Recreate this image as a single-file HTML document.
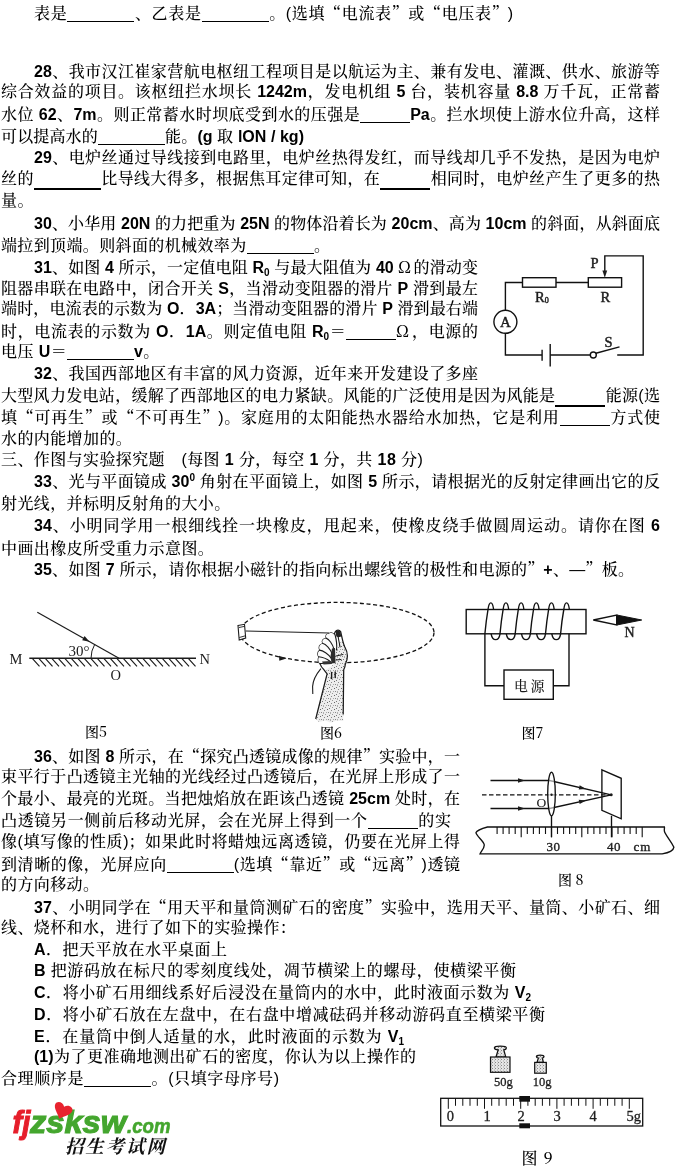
<!DOCTYPE html><html lang="zh"><head><meta charset="utf-8"><title>物理试题</title><style>
html,body{margin:0;padding:0;background:#fff;}
body{width:675px;height:1171px;position:relative;overflow:hidden;
 font-family:"Liberation Sans","Noto Serif CJK SC","Noto Sans CJK SC",sans-serif;font-size:16px;color:#000;font-weight:500;}
.l{position:absolute;white-space:nowrap;height:20px;line-height:20px;}
.j{text-align:justify;text-align-last:justify;white-space:normal;}
b{font-weight:bold;}
q{quotes:none;font-family:"Noto Serif CJK SC",serif;}
q:before,q:after{content:none;}
u{text-decoration:none;display:inline-block;width:15px;text-align:center;font-family:"Noto Serif CJK SC",serif;}
.n{letter-spacing:0.4px;}
i.u{display:inline-block;border-bottom:1px solid #000;height:0;vertical-align:-3px;}
i.u.k{border-bottom-width:2px;vertical-align:-6px;}
sub{font-size:10px;vertical-align:-3px;line-height:0;}
sup{font-size:10px;vertical-align:6px;line-height:0;}
svg{position:absolute;overflow:visible;}
#pg{position:absolute;left:0;top:0;width:675px;height:1171px;will-change:transform;}
.fl{position:absolute;font-family:"Noto Serif CJK SC","Liberation Serif",serif;font-size:14px;white-space:nowrap;line-height:16px;}
</style></head><body><div id="pg">
<div class="l j" id="l1" style="top:3.2px;left:34px;width:479px">表是<i class="u" style="width:67px"></i>、乙表是<i class="u" style="width:67px"></i>。(选填<q>“</q>电流表<q>”</q>或<q>“</q>电压表<q>”</q>)</div>
<div class="l j" id="l2" style="top:62.2px;left:34px;width:626px"><b>28</b>、我市汉江崔家营航电枢纽工程项目是以航运为主、兼有发电、灌溉、供水、旅游等</div>
<div class="l j" id="l3" style="top:81.8px;left:1px;width:659px">综合效益的项目。该枢纽拦水坝长 <b>1242m</b>，发电机组 <b>5</b> 台，装机容量 <b>8.8</b> 万千瓦，正常蓄</div>
<div class="l j" id="l4" style="top:105.2px;left:1px;width:659px">水位 <b>62</b>、<b>7m</b>。则正常蓄水时坝底受到水的压强是<i class="u" style="width:50px"></i><b>Pa</b>。拦水坝使上游水位升高，这样</div>
<div class="l j" id="l5" style="top:127.2px;left:1px;width:303px">可以提高水的<i class="u" style="width:67px"></i>能。<b>(g</b> 取 <b>lON / kg)</b></div>
<div class="l j" id="l6" style="top:148.2px;left:34px;width:626px"><b>29</b>、电炉丝通过导线接到电路里，电炉丝热得发红，而导线却几乎不发热，是因为电炉</div>
<div class="l j" id="l7" style="top:169.2px;left:1px;width:659px">丝的<i class="u k" style="width:67px"></i>比导线大得多，根据焦耳定律可知，在<i class="u k" style="width:50px"></i>相同时，电炉丝产生了更多的热</div>
<div class="l n" id="l8" style="top:191.2px;left:1px">量。</div>
<div class="l j" id="l9" style="top:214.2px;left:34px;width:626px"><b>30</b>、小华用 <b>20N</b> 的力把重为 <b>25N</b> 的物体沿着长为 <b>20cm</b>、高为 <b>10cm</b> 的斜面，从斜面底</div>
<div class="l j" id="l10" style="top:236.2px;left:1px;width:329px">端拉到顶端。则斜面的机械效率为<i class="u" style="width:67px"></i>。</div>
<div class="l j" id="l11" style="top:257.2px;left:34px;width:444px"><b>31</b>、如图 <b>4</b> 所示，一定值电阻 <b>R<sub>0</sub></b> 与最大阻值为 <b>40</b> <u>Ω</u>的滑动变</div>
<div class="l j" id="l12" style="top:278.7px;left:1px;width:477px">阻器串联在电路中，闭合开关 <b>S</b>，当滑动变阻器的滑片 <b>P</b> 滑到最左</div>
<div class="l j" id="l13" style="top:299.2px;left:1px;width:477px">端时，电流表的示数为 <b>O</b>．<b>3A</b>；当滑动变阻器的滑片 <b>P</b> 滑到最右端</div>
<div class="l j" id="l14" style="top:320.8px;left:1px;width:477px">时，电流表的示数为 <b>O</b>．<b>1A</b>。则定值电阻 <b>R<sub>0</sub></b>＝<i class="u" style="width:50px"></i><u>Ω</u>，电源的</div>
<div class="l n" id="l15" style="top:341.7px;left:1px">电压 <b>U</b>＝<i class="u" style="width:67px"></i><b>v</b>。</div>
<div class="l j" id="l16" style="top:364.2px;left:34px;width:444px"><b>32</b>、我国西部地区有丰富的风力资源，近年来开发建设了多座</div>
<div class="l j" id="l17" style="top:386.2px;left:1px;width:659px">大型风力发电站，缓解了西部地区的电力紧缺。风能的广泛使用是因为风能是<i class="u k" style="width:50px"></i>能源(选</div>
<div class="l j" id="l18" style="top:407.2px;left:1px;width:659px">填<q>“</q>可再生<q>”</q>或<q>“</q>不可再生<q>”</q>)。家庭用的太阳能热水器给水加热，它是利用<i class="u" style="width:50px"></i>方式使</div>
<div class="l n" id="l19" style="top:428.9px;left:1px">水的内能增加的。</div>
<div class="l n" id="l20" style="top:450.2px;left:1px">三、作图与实验探究题　(每图 <b>1</b> 分，每空 <b>1</b> 分，共 <b>18</b> 分)</div>
<div class="l j" id="l21" style="top:471.5px;left:34px;width:626px"><b>33</b>、光与平面镜成 <b>30<sup>0</sup></b> 角射在平面镜上，如图 <b>5</b> 所示，请根据光的反射定律画出它的反</div>
<div class="l n" id="l22" style="top:494.0px;left:1px">射光线，并标明反射角的大小。</div>
<div class="l j" id="l23" style="top:516.2px;left:34px;width:626px"><b>34</b>、小明同学用一根细线拴一块橡皮，甩起来，使橡皮绕手做圆周运动。请你在图 <b>6</b></div>
<div class="l n" id="l24" style="top:539.2px;left:1px">中画出橡皮所受重力示意图。</div>
<div class="l j" id="l25" style="top:559.2px;left:34px;width:600px"><b>35</b>、如图 <b>7</b> 所示，请你根据小磁针的指向标出螺线管的极性和电源的<q>”</q><b>+</b>、—<q>”</q>板。</div>
<div class="l j" id="l26" style="top:745.6px;left:34px;width:426px"><b>36</b>、如图 <b>8</b> 所示，在<q>“</q>探究凸透镜成像的规律<q>”</q>实验中，一</div>
<div class="l j" id="l27" style="top:766.9px;left:1px;width:459px">束平行于凸透镜主光轴的光线经过凸透镜后，在光屏上形成了一</div>
<div class="l j" id="l28" style="top:789.2px;left:1px;width:459px">个最小、最亮的光斑。当把烛焰放在距该凸透镜 <b>25cm</b> 处时，在</div>
<div class="l j" id="l29" style="top:811.2px;left:1px;width:450px">凸透镜另一侧前后移动光屏，会在光屏上得到一个<i class="u" style="width:50px"></i>的实</div>
<div class="l j" id="l30" style="top:832.2px;left:1px;width:459px">像(填写像的性质)；如果此时将蜡烛远离透镜，仍要在光屏上得</div>
<div class="l j" id="l31" style="top:854.2px;left:1px;width:459px">到清晰的像，光屏应向<i class="u" style="width:67px"></i>(选填<q>“</q>靠近<q>”</q>或<q>“</q>远离<q>”</q>)透镜</div>
<div class="l n" id="l32" style="top:874.9px;left:1px">的方向移动。</div>
<div class="l j" id="l33" style="top:897.2px;left:34px;width:626px"><b>37</b>、小明同学在<q>“</q>用天平和量筒测矿石的密度<q>”</q>实验中，选用天平、量筒、小矿石、细</div>
<div class="l n" id="l34" style="top:918.2px;left:1px">线、烧杯和水，进行了如下的实验操作：</div>
<div class="l j" id="l35" style="top:940.2px;left:34px;width:193px"><b>A</b>．把天平放在水平桌面上</div>
<div class="l j" id="l36" style="top:961.2px;left:34px;width:482px"><b>B</b> 把游码放在标尺的零刻度线处，凋节横梁上的螺母，使横梁平衡</div>
<div class="l j" id="l37" style="top:982.9px;left:34px;width:497px"><b>C</b>．将小矿石用细线系好后浸没在量筒内的水中，此时液面示数为 <b>V<sub>2</sub></b></div>
<div class="l j" id="l38" style="top:1005.0px;left:34px;width:511px"><b>D</b>．将小矿石放在左盘中，在右盘中增减砝码并移动游码直至横梁平衡</div>
<div class="l j" id="l39" style="top:1026.8px;left:34px;width:370px"><b>E</b>．在量筒中倒人适量的水，此时液面的示数为 <b>V<sub>1</sub></b></div>
<div class="l j" id="l40" style="top:1047.2px;left:34px;width:382px"><b>(1)</b>为了更准确地测出矿石的密度，你认为以上操作的</div>
<div class="l j" id="l41" style="top:1069.2px;left:1px;width:278px">合理顺序是<i class="u" style="width:67px"></i>。(只填字母序号)</div>
<svg width="675" height="1171" viewBox="0 0 675 1171" style="left:0;top:0">
<defs>
<pattern id="st" width="7" height="7" patternUnits="userSpaceOnUse"><rect width="7" height="7" fill="#ededed"/><rect x="0" y="1" width="1" height="1" fill="#777"/><rect x="3" y="0" width="1" height="1" fill="#999"/><rect x="5" y="2" width="1" height="1" fill="#666"/><rect x="2" y="3" width="1" height="1" fill="#8a8a8a"/><rect x="6" y="5" width="1" height="1" fill="#888"/><rect x="4" y="5" width="1" height="1" fill="#aaa"/><rect x="1" y="5.500" width="1" height="1" fill="#707070"/></pattern>
<pattern id="st2" width="3" height="3" patternUnits="userSpaceOnUse"><rect width="3" height="3" fill="#e6e6e6"/><rect x="0" y="0" width="1" height="1" fill="#888"/><rect x="2" y="1.500" width="1" height="1" fill="#aaa"/></pattern>
</defs>
<!-- ===== Fig 4 circuit ===== -->
<g stroke="#111" stroke-width="1.4" fill="none">
<path d="M505.4 310.3V282.5H522.5"/>
<rect x="522.5" y="277.7" width="33.5" height="9.5"/>
<path d="M556 282.5H588.3"/>
<rect x="588.3" y="277.7" width="33.3" height="9.5"/>
<path d="M604.8 272V255.9H643.2V355H617.2"/>
<circle cx="505.4" cy="321.8" r="11.5"/>
<path d="M505.4 333.3V355H542.1"/>
<path d="M542.1 349.8V360.8"/>
<path d="M550.2 344V366.5"/>
<path d="M550.2 355H590.3"/>
<circle cx="593.3" cy="355" r="3"/>
<path d="M595.9 353.2L619.5 346.9"/>
</g>
<path d="M602.4 270.5H607.2L604.8 277.7Z" fill="#1c1c1c"/>
<g font-family="'Liberation Serif',serif" font-size="14.5" fill="#1c1c1c" stroke="#1c1c1c" stroke-width="0.45">
<text x="590.5" y="267.5">P</text>
<text x="535" y="301.5">R<tspan font-size="8" dy="1.5">0</tspan></text>
<text x="600.5" y="301.8">R</text>
<text x="604.5" y="346.5">S</text>
<text x="505.4" y="326.6" text-anchor="middle" font-size="15">A</text>
</g>
<!-- ===== Fig 5 mirror ===== -->
<g stroke="#1c1c1c" fill="none">
<path d="M29.3 658.3H196" stroke-width="1.6"/>
<path stroke-width="1.15" d="M32.5 658.6l7 7.8M39.0 658.6l7 7.8M45.5 658.6l7 7.8M52.0 658.6l7 7.8M58.5 658.6l7 7.8M65.0 658.6l7 7.8M71.5 658.6l7 7.8M78.0 658.6l7 7.8M84.5 658.6l7 7.8M91.0 658.6l7 7.8M97.5 658.6l7 7.8M104.0 658.6l7 7.8M110.5 658.6l7 7.8M117.0 658.6l7 7.8M123.5 658.6l7 7.8M130.0 658.6l7 7.8M136.5 658.6l7 7.8M143.0 658.6l7 7.8M149.5 658.6l7 7.8M156.0 658.6l7 7.8M162.5 658.6l7 7.8M169.0 658.6l7 7.8M175.5 658.6l7 7.8M182.0 658.6l7 7.8M188.5 658.6l7 7.8"/>
<path d="M37.3 612.3L119 658.3" stroke-width="1.2"/>
<path d="M91 658.3A28 28 0 0 1 94.75 644.3" stroke-width="1"/>
</g>
<path d="M89.5 641.7L82.2 640.3L84.6 636.1Z" fill="#1c1c1c"/>
<g font-family="'Liberation Serif',serif" font-size="14" fill="#1c1c1c">
<text x="9.500" y="663.5" font-size="14.5">M</text>
<text x="199.5" y="663.5" font-size="14.5">N</text>
<text x="68.500" y="656" font-size="15">30°</text>
<text x="110.5" y="680.3" font-size="14.5">O</text>
</g>
<!-- ===== Fig 6 hand ===== -->
<ellipse cx="337" cy="632.6" rx="97" ry="30.2" fill="none" stroke="#111" stroke-width="1.3" stroke-dasharray="4 2.6"/>
<!-- forearm + palm stipple -->
<path d="M327.1 673.9L315.7 719L319 722L325 720.5L331 722.500L337 720.5L343.2 721L343.2 714.4L343.7 669.8L347.4 658L346 649L342 640L336 648L334 664L326 670Z" fill="url(#st)"/>
<!-- fist outline -->
<path d="M329.2 633.5Q324.800 634.300 326.3 638.3Q320.800 639.300 322.8 643.5Q317.600 645.300 319.8 650.3Q316.400 653 318.8 657Q317.300 661 319.9 663.6C321 666.5 322.5 668.5 324 669.8L327.1 673.9L315.7 719M343.2 714.4L343.7 669.8C345 667 345.3 665.5 345.3 664.6C347 661 347.4 659.4 347.4 656C347.4 652 346 649 344.8 647C343.5 644 343 642 342.7 640.7L340.6 631.5C339.5 629.8 336.5 629.8 335.4 631.5L334 634.5C332.5 632.8 330.5 632.8 329.2 633.5" fill="none" stroke="#1a1a1a" stroke-width="1.25" stroke-linejoin="round"/>
<!-- fingers fill white -->
<path d="M329.2 633.5Q324.800 634.300 326.3 638.3Q320.800 639.300 322.8 643.5Q317.600 645.300 319.8 650.3Q316.400 653 318.8 657Q317.300 661 319.9 663.6L330.3 662L334 650L336 640L334 634.5C332.5 632.8 330.5 632.8 329.2 633.5Z" fill="#fbfbfb"/>
<g fill="none" stroke="#1a1a1a" stroke-width="1.1" stroke-linecap="round">
<path d="M326.1 638.1C329 639 332.500 644 333.9 649"/>
<path d="M322.5 643.3C326 644 330.500 649 332.3 654.2"/>
<path d="M319.4 650.1C323 650.5 328.500 654 331.3 658.4"/>
<path d="M318.6 656.8C322 657 327 659 330.3 661.5"/>
<path d="M319.9 663.6C323 663.500 327 663 331 662.500"/>
<path d="M335 634.500C336.500 640 337 646 336.500 650"/>
<path d="M338 636L340 647"/>
<path d="M331.6 672.5V678.500M335.2 672V677.500" stroke-width="1.4"/>
<path d="M336 656L343 654.500M336 660L341 659.500" stroke-width="1"/>
</g>
<!-- dark accents -->
<path d="M335.6 631.6C336.6 630.2 339.4 630.2 340.4 631.8L341.3 636.500L338.500 637.3L336.3 636.500Z" fill="#222"/>
<path d="M332 648.500L335 648L335.500 663L331.500 663.500L330.500 656Z" fill="#2c2c2c"/>
<path d="M322 661.500L331 661L332 664L323.500 664.500Z" fill="#333"/>
<!-- eraser -->
<path d="M238 625.500L244.500 624.3L245.7 638L239.200 640Z" fill="#fff" stroke="#1c1c1c" stroke-width="1.1"/>
<path d="M239 627.5L244.800 626.3M239.300 637.500L245.300 635.800" fill="none" stroke="#1c1c1c" stroke-width="0.9"/>
<!-- string -->
<path d="M245.7 631L329.2 633" fill="none" stroke="#1c1c1c" stroke-width="1"/>
<path d="M320.9 668.7C316.5 674 313 680 312.6 686.4L312.8 694.1" fill="none" stroke="#1c1c1c" stroke-width="1.1"/>
<!-- arrow on orbit -->
<path d="M286.500 658.500L279 655.800L279.300 660.700Z" fill="#1c1c1c"/>
<!-- ===== Fig 7 solenoid ===== -->
<g fill="none" stroke="#111" stroke-width="1.4">
<rect x="466.2" y="609.5" width="119.8" height="24.3" fill="#fff"/>
<!-- coil turns: front diagonal + top arc + bottom arc -->
<path d="M484.9 633.8C485.7 625 486.9 616 488.0 609.5C489.2 600.7 492.5 600.7 493.6 609.5"/>
<path d="M491.1 633.8C492.6 641.6 498.8 641.6 500.0 633.8C500.8 625 502.0 616 503.1 609.5C504.3 600.7 507.6 600.7 508.7 609.5"/>
<path d="M506.3 633.8C507.8 641.6 514.0 641.6 515.2 633.8C516.0 625 517.2 616 518.3 609.5C519.5 600.7 522.8 600.7 523.9 609.5"/>
<path d="M521.5 633.8C523.0 641.6 529.1 641.6 530.4 633.8C531.1 625 532.4 616 533.5 609.5C534.6 600.7 538.0 600.7 539.1 609.5"/>
<path d="M536.6 633.8C538.1 641.6 544.3 641.6 545.5 633.8C546.3 625 547.5 616 548.6 609.5C549.8 600.7 553.1 600.7 554.2 609.5"/>
<path d="M551.8 633.8C553.2 641.6 559.4 641.6 560.6 633.8C561.4 625 562.6 616 563.8 609.5C564.9 600.7 568.2 600.7 569.4 609.5"/>
<path d="M484.9 633.8V685.7H504"/>
<path d="M569 633.8V685.7H553.3"/>
<rect x="504" y="670" width="49.3" height="29.3"/>
<path d="M593.3 620L616.7 615V625Z" fill="#fff"/>
</g>
<path d="M616.7 615L641.7 620L616.7 625Z" fill="#111" stroke="#111" stroke-width="1"/>
<g font-family="'Liberation Serif','Noto Serif CJK SC',serif" fill="#1c1c1c">
<text x="624.5" y="636.500" font-size="14" stroke="#1c1c1c" stroke-width="0.4">N</text>
<text x="514" y="690.500" font-size="14" font-family="'Noto Serif CJK SC',serif" letter-spacing="2.500">电源</text>
</g>
<!-- ===== Fig 8 lens ===== -->
<g fill="none" stroke="#111" stroke-width="1.35">
<path d="M490.5 780.5H549.5L611.2 794.8L549.5 808.5H490.5"/>
<path d="M482 794.8H611.2" stroke-dasharray="4.5 2.500"/>
<ellipse cx="551.5" cy="794" rx="3.8" ry="21.8" fill="#fff" fill-opacity="0.6"/>
<path d="M551.5 815.7V837.2M611.5 815.7V837.2"/>
<path d="M601.9 769.9L621.2 778.3V818.8L601.9 810.4Z"/>
<path stroke-width="1.35" d="M487.5 827C482 828.500 477 830 476 832.500C476 836 484 841 484.3 845C484.300 848.5 481 851.500 480 853.9H662.2C668 853 673.500 850.500 673.9 847.2C671.500 842 667 837 665 832.8C663.500 830.500 664.800 828.500 664.4 827Z"/>
<path d="M497.1 827v7.0M503.1 827v7.0M509.1 827v7.0M515.2 827v7.0M521.2 827v10.2M527.3 827v7.0M533.4 827v7.0M539.4 827v7.0M545.5 827v7.0M551.5 827v10.2M557.5 827v7.0M563.6 827v7.0M569.6 827v7.0M575.7 827v7.0M581.8 827v10.2M587.8 827v7.0M593.9 827v7.0M599.9 827v7.0M606.0 827v7.0M612.0 827v10.2M618.0 827v7.0M624.1 827v7.0M630.1 827v7.0M636.2 827v7.0M642.2 827v10.2" stroke-width="1.1"/>
</g>
<path d="M525.0 780.5L518.0 778.3L518.0 782.7Z" fill="#1c1c1c"/>
<path d="M525.0 808.5L518.0 806.3L518.0 810.7Z" fill="#1c1c1c"/>
<path d="M586.0 789.0L579.7 785.3L578.7 789.6Z" fill="#1c1c1c"/>
<path d="M586.0 800.4L578.7 799.8L579.7 804.1Z" fill="#1c1c1c"/>
<circle cx="551.5" cy="794.8" r="1.2" fill="#1c1c1c"/><circle cx="611.2" cy="794.8" r="1.500" fill="#1c1c1c"/>
<g font-family="'Liberation Serif',serif" fill="#1c1c1c" stroke="#1c1c1c" stroke-width="0.35" font-size="13">
<text x="546.500" y="851" letter-spacing="0.5">30</text>
<text x="607" y="851" letter-spacing="0.5">40</text>
<text x="633.500" y="851" letter-spacing="1">cm</text>
<text x="536.5" y="806.500" font-size="13.500" stroke-width="0.1">O</text>
</g>
<!-- ===== Fig 9 weights ===== -->
<g fill="none" stroke="#111" stroke-width="1.25">
<path d="M496 1057L498.200 1049.800C495.500 1049.800 494.400 1049 494.400 1047.800C494.400 1046.500 496 1046.100 500.300 1046.100C504.700 1046.100 506.300 1046.500 506.300 1047.800C506.300 1049 505.200 1049.800 503.800 1049.800L505.800 1057Z" fill="url(#st2)"/>
<rect x="490.5" y="1057" width="19.5" height="15.3" fill="url(#st2)" stroke-width="1.2"/>
<path d="M537 1062.400L538.400 1058C536.800 1058 536.400 1057.500 536.400 1056.500C536.400 1055.300 537.500 1055 540.200 1055C542.900 1055 544 1055.300 544 1056.500C544 1057.500 543.600 1058 542.300 1058L543.400 1062.400Z" fill="url(#st2)"/>
<rect x="534.7" y="1062.4" width="11.6" height="10.8" fill="url(#st2)" stroke-width="1.2"/>
<rect x="440.7" y="1098.3" width="202" height="27.700" stroke-width="1.3"/>
<path d="M448.3 1098.3v10.5M455.5 1098.3v7.5M462.8 1098.3v7.5M470.0 1098.3v7.5M477.3 1098.3v7.5M484.5 1098.3v10.5M491.7 1098.3v7.5M499.0 1098.3v7.5M506.2 1098.3v7.5M513.5 1098.3v7.5M520.7 1098.3v10.5M527.9 1098.3v7.5M535.2 1098.3v7.5M542.4 1098.3v7.5M549.7 1098.3v7.5M556.9 1098.3v10.5M564.1 1098.3v7.5M571.4 1098.3v7.5M578.6 1098.3v7.5M585.9 1098.3v7.5M593.1 1098.3v10.5M600.3 1098.3v7.5M607.6 1098.3v7.5M614.8 1098.3v7.5M622.1 1098.3v7.5M629.3 1098.3v10.5" stroke-width="1"/>
</g>
<rect x="519.3" y="1096" width="10.7" height="5.700" fill="#111"/>
<rect x="519.3" y="1123.3" width="10.7" height="5" fill="#111"/>
<g font-family="'Liberation Serif',serif" fill="#1c1c1c" font-size="13.500" stroke="#1c1c1c" stroke-width="0.3">
<text x="494" y="1086" font-size="12.500">50g</text>
<text x="532.800" y="1086" font-size="12.500">10g</text>
<text x="446.7" y="1120.7" font-size="14.5" font-weight="normal">0</text>
<text x="483.5" y="1120.7" font-size="14.5" font-weight="normal">1</text>
<text x="517.5" y="1120.7" font-size="14.5" font-weight="normal">2</text>
<text x="553.5" y="1120.7" font-size="14.5" font-weight="normal">3</text>
<text x="589.5" y="1120.7" font-size="14.5" font-weight="normal">4</text>
<text x="626.5" y="1120.7" font-size="14.5" font-weight="normal">5g</text>
</g>
<!-- ===== logo ===== -->
<g font-family="'Liberation Sans',sans-serif" font-weight="bold" font-style="italic">
<text x="12.500" y="1133" font-size="32" fill="#e61e2b" stroke="#e61e2b" stroke-width="1" textLength="18" lengthAdjust="spacingAndGlyphs">fj</text>
<text x="30" y="1133" font-size="32" fill="#44a62e" stroke="#44a62e" stroke-width="1.1" textLength="96" lengthAdjust="spacingAndGlyphs">zsksw</text>
<text x="127" y="1133" font-size="21" fill="#44a62e" stroke="#44a62e" stroke-width="0.6" textLength="43.500" lengthAdjust="spacingAndGlyphs">.com</text>
</g>
<g transform="translate(62.300 1111.300) rotate(22) scale(1.08)"><path d="M0 7.5C-3 3.500 -8.500 0.500 -8.500 -3.500C-8.500 -7.500 -2.500 -8.500 0 -4.500C2.500 -8.500 8.500 -7.500 8.500 -3.500C8.500 0.500 3 3.500 0 7.5Z" fill="#e8232f"/></g>
<text x="65" y="1153" font-family="'Noto Serif CJK SC',serif" font-weight="700" font-size="18.500" fill="#111" textLength="100" lengthAdjust="spacing" font-style="italic">招生考试网</text>
</svg>
<div class="fl" style="left:85px;top:722.5px">图5</div>
<div class="fl" style="left:320px;top:723.5px">图6</div>
<div class="fl" style="left:521.5px;top:724px">图7</div>
<div class="fl" style="left:558px;top:871px">图 8</div>
<div class="fl" style="left:521.5px;top:1150px;font-size:16px;letter-spacing:1px">图 9</div>
</div></body></html>
